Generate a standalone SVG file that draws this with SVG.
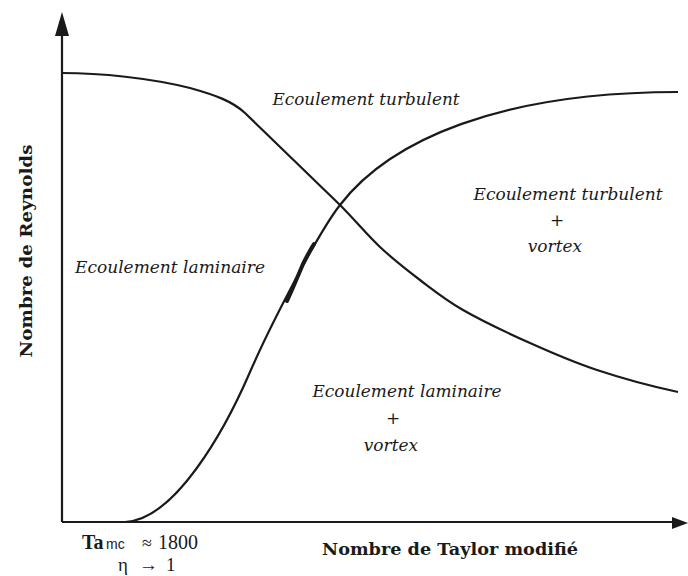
<svg xmlns="http://www.w3.org/2000/svg" width="688" height="576" viewBox="0 0 688 576">
<style>
.ax{stroke:#1a1a1a;stroke-width:2.2;fill:none}
.cv{stroke:#1a1a1a;stroke-width:2.2;fill:none}
.lb{font-family:"DejaVu Serif","Liberation Serif",serif;font-style:italic;font-size:17px;fill:#1a1a1a;text-anchor:middle}
.bd{font-family:"DejaVu Serif","Liberation Serif",serif;font-weight:bold;font-size:17px;fill:#1a1a1a}
.nm{font-family:"Liberation Serif",serif;font-size:19px;fill:#1a1a1a}
</style>
<rect width="688" height="576" fill="#fff"/>
<g id="axes">
<line class="ax" x1="62" y1="522" x2="62" y2="30"/>
<polygon points="62,12 55,36 69,36" fill="#1a1a1a"/>
<line class="ax" x1="62" y1="522" x2="676" y2="522"/>
<polygon points="688,523 672,517 672,529" fill="#1a1a1a"/>
</g>
<g id="connectors">
<path class="cv" d="M62,73 C100,73 150,78 190,88 C215,95 232,101 245,113 L340,205 C354.8,219.8 366.7,234.5 380,247 C393.3,259.5 406.2,269.5 420,280 C433.8,290.5 444.7,299.5 463,310 C481.3,320.5 507.7,333 530,343 C552.3,353 572.3,361.8 597,370 C621.7,378.2 650,386 678,392"/>
<path class="cv" d="M125,522 C175,520 225,430 250,372 C270,326 318,233 340,205 C390,140 500,92 678,92"/>
<path d="M287,301 C292,290 298,276 303,264 C307,256 310,250 314,244" fill="none" stroke="#1a1a1a" stroke-width="4" stroke-linecap="round"/>
</g>
<g id="region-turbulent"><text class="lb" x="366" y="105" textLength="187" lengthAdjust="spacingAndGlyphs">Ecoulement turbulent</text></g>
<g id="region-turbulent-vortex">
<text class="lb" x="568" y="200" textLength="189" lengthAdjust="spacingAndGlyphs">Ecoulement turbulent</text>
<text class="lb" x="557" y="226">+</text>
<text class="lb" x="555" y="252">vortex</text>
</g>
<g id="region-laminaire"><text class="lb" x="170" y="273" textLength="190" lengthAdjust="spacingAndGlyphs">Ecoulement laminaire</text></g>
<g id="region-laminaire-vortex">
<text class="lb" x="407" y="397" textLength="189" lengthAdjust="spacingAndGlyphs">Ecoulement laminaire</text>
<text class="lb" x="393" y="424">+</text>
<text class="lb" x="391" y="451">vortex</text>
</g>
<g id="axis-labels">
<text class="bd" x="322" y="555" textLength="256" lengthAdjust="spacingAndGlyphs">Nombre de Taylor modifié</text>
<text class="bd" transform="translate(32,251) rotate(-90)" text-anchor="middle" textLength="213" lengthAdjust="spacingAndGlyphs">Nombre de Reynolds</text>
<text y="549" fill="#1a1a1a"><tspan x="82" font-family="Liberation Serif,serif" font-weight="bold" font-size="20px">Ta</tspan><tspan x="106" font-family="Liberation Sans,sans-serif" font-size="14px">mc</tspan><tspan x="142" font-family="Liberation Serif,serif" font-size="18px">≈</tspan><tspan x="158" font-family="Liberation Serif,serif" font-size="20px">1800</tspan></text>
<text class="nm" y="571"><tspan x="118">η</tspan><tspan x="139">→</tspan><tspan x="166">1</tspan></text>
</g>
</svg>
